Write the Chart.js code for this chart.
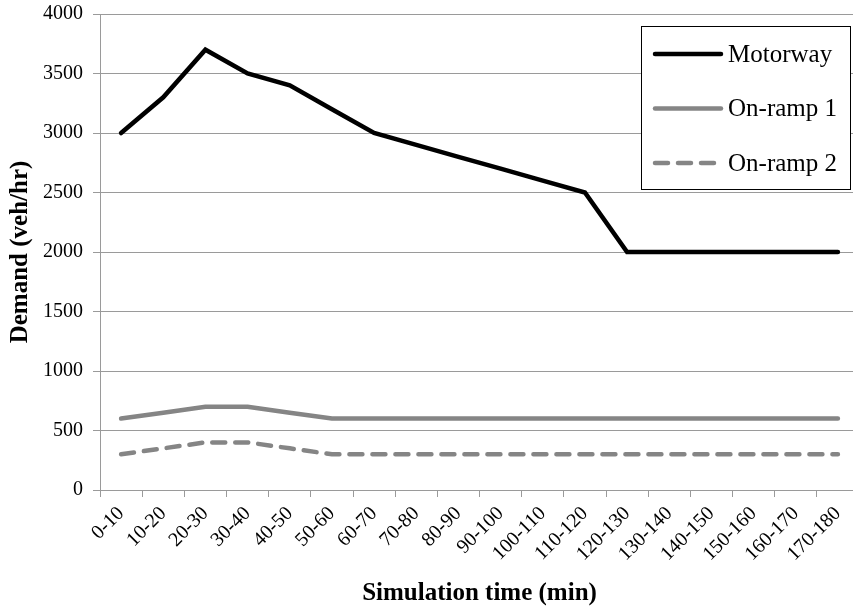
<!DOCTYPE html>
<html lang="en">
<head>
    <meta charset="UTF-8">
    <title>Demand profile</title>
    <script src="https://cdn.jsdelivr.net/npm/chart.js@4.4.0/dist/chart.umd.min.js"></script>
    <style>
        html, body { margin: 0; padding: 0; background: #fff; overflow: hidden; }
        #wrap { width: 860px; height: 612px; }
    </style>
</head>
<body>
<div id="wrap"><canvas id="chart" width="860" height="612"></canvas></div>
<script>
// time slots (min)
const periods = ['0-10', '10-20', '20-30', '30-40', '40-50', '50-60', '60-70', '70-80', '80-90',
    '90-100', '100-110', '110-120', '120-130', '130-140', '140-150', '150-160', '160-170', '170-180'];

// demand in veh/hr
const motorway = [3000, 3300, 3700, 3500, 3400, 3200, 3000, 2900, 2800, 2700, 2600, 2500, 2000, 2000, 2000, 2000, 2000, 2000];
const onRamp1 = [600, 650, 700, 700, 650, 600, 600, 600, 600, 600, 600, 600, 600, 600, 600, 600, 600, 600];
const onRamp2 = [300, 350, 400, 400, 350, 300, 300, 300, 300, 300, 300, 300, 300, 300, 300, 300, 300, 300];

const serif = '"Liberation Serif", "Times New Roman", serif';
const gridGrey = '#9a9a9a';

// legend drawn inside the plot, boxed, like the original
const boxLegend = {
    id: 'boxLegend',
    afterDraw(chart) {
        const ctx = chart.ctx;
        const x = 641, y = 26, w = 209, h = 163;
        ctx.save();
        ctx.fillStyle = '#fff';
        ctx.fillRect(x, y, w, h);
        ctx.strokeStyle = '#000';
        ctx.lineWidth = 1;
        ctx.strokeRect(x + 0.5, y + 0.5, w, h);
        ctx.font = '25px ' + serif;
        ctx.textBaseline = 'middle';
        chart.data.datasets.forEach((ds, i) => {
            const ly = 54 + i * 54.5;
            ctx.beginPath();
            ctx.strokeStyle = ds.borderColor;
            ctx.lineWidth = ds.borderWidth;
            ctx.lineCap = 'round';
            ctx.setLineDash(ds.borderDash || []);
            ctx.moveTo(655, ly);
            ctx.lineTo(721, ly);
            ctx.stroke();
            ctx.setLineDash([]);
            ctx.fillStyle = '#000';
            ctx.fillText(ds.label, 728, ly + 1);
        });
        ctx.restore();
    }
};

const ctx = document.getElementById('chart').getContext('2d');
new Chart(ctx, {
    type: 'line',
    data: {
        labels: periods,
        datasets: [{
            label: 'Motorway',
            data: motorway,
            borderColor: '#000',
            borderWidth: 4.5,
            borderCapStyle: 'round'
        }, {
            label: 'On-ramp 1',
            data: onRamp1,
            borderColor: '#858585',
            borderWidth: 4.5,
            borderCapStyle: 'round'
        }, {
            label: 'On-ramp 2',
            data: onRamp2,
            borderColor: '#858585',
            borderWidth: 4.5,
            borderCapStyle: 'round',
            borderDash: [13, 10]
        }]
    },
    options: {
        responsive: false,
        animation: false,
        layout: { padding: { top: 14, right: 1, left: 0, bottom: 0 } },
        elements: { point: { radius: 0 }, line: { tension: 0, fill: false } },
        plugins: { legend: { display: false }, tooltip: { enabled: false } },
        scales: {
            x: {
                offset: true,
                grid: { offset: true, drawOnChartArea: false, drawTicks: true, tickLength: 7, color: gridGrey },
                border: { color: gridGrey },
                ticks: { autoSkip: false, minRotation: 45, maxRotation: 45, padding: 5, color: '#000', font: { family: serif, size: 20 } },
                title: { display: true, text: 'Simulation time (min)', color: '#000', padding: { top: 0, bottom: 3 }, font: { family: serif, size: 25, weight: 'bold' } },
                afterFit(scale) { scale.height = 122; }
            },
            y: {
                min: 0,
                max: 4000,
                ticks: { stepSize: 500, padding: 10, color: '#000', font: { family: serif, size: 20 }, callback: v => String(v) },
                grid: { color: gridGrey, tickLength: 7 },
                border: { color: gridGrey },
                title: { display: true, text: 'Demand (veh/hr)', color: '#000', padding: { top: 6, bottom: 0 }, font: { family: serif, size: 25, weight: 'bold' } },
                afterFit(scale) {
                    scale.width = 100;
                    scale.paddingTop = 0;
                    scale.paddingBottom = 0;
                }
            }
        }
    },
    plugins: [boxLegend]
});
</script>
</body>
</html>
